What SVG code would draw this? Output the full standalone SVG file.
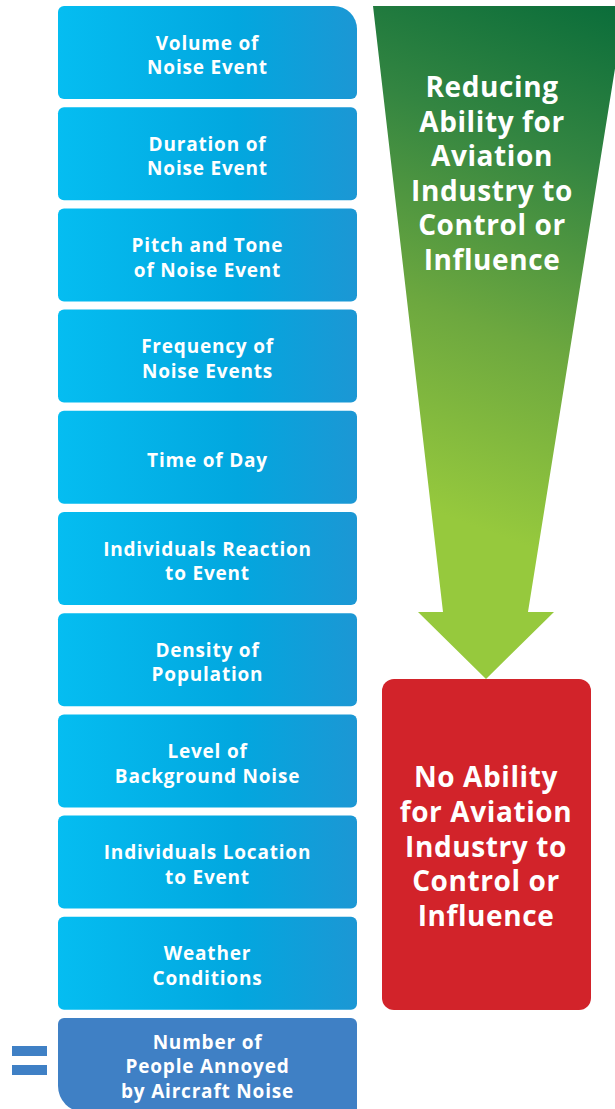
<svg xmlns="http://www.w3.org/2000/svg" width="615" height="1109" viewBox="0 0 615 1109">
<defs>
<linearGradient id="blue" x1="0" y1="0" x2="1" y2="0">
<stop offset="0" stop-color="#05BDF1"/>
<stop offset="0.6" stop-color="#02A7DF"/>
<stop offset="1" stop-color="#1C97D4"/>
</linearGradient>
<linearGradient id="green" gradientUnits="userSpaceOnUse" x1="620" y1="0" x2="430" y2="510">
<stop offset="0" stop-color="#096C3A"/>
<stop offset="0.3" stop-color="#338541"/>
<stop offset="0.65" stop-color="#6DA83F"/>
<stop offset="1" stop-color="#96C93D"/>
</linearGradient>
<style>
.box{fill:url(#blue);}
.t{font-family:"Open Sans","Liberation Sans",sans-serif;font-weight:700;fill:#fff;text-anchor:middle;}
.s{font-size:19px;letter-spacing:0.8px;}
.b{font-size:28px;letter-spacing:0.6px;}
</style>
</defs>
<rect width="615" height="1109" fill="#fff"/>

<g id="arrow">
<path d="M373,6 L625,6 L528,612 L554,612 L486,679 L418,612 L443,612 Z" fill="url(#green)"/>
<text class="t b"><tspan x="492" y="97">Reducing</tspan><tspan x="492" y="131.5">Ability for</tspan><tspan x="492" y="166">Aviation</tspan><tspan x="492" y="200.5">Industry to</tspan><tspan x="492" y="235">Control or</tspan><tspan x="492" y="269.5">Influence</tspan></text>
</g>

<g id="no-ability">
<rect x="382" y="679" width="209" height="331" rx="12" fill="#D2232A"/>
<text class="t b"><tspan x="486" y="787">No Ability</tspan><tspan x="486" y="822">for Aviation</tspan><tspan x="486" y="856.5">Industry to</tspan><tspan x="486" y="891">Control or</tspan><tspan x="486" y="926">Influence</tspan></text>
</g>

<g id="volume">
<path class="box" d="M64,6 L334,6 A23,23 0 0 1 357,29 L357,93 A6,6 0 0 1 351,99 L64,99 A6,6 0 0 1 58,93 L58,12 A6,6 0 0 1 64,6 Z"/>
<text class="t s"><tspan x="207.5" y="49.5">Volume of</tspan><tspan x="207.5" y="74.1">Noise Event</tspan></text>
</g>
<g id="duration">
<rect class="box" x="58" y="107.2" width="299" height="93" rx="6"/>
<text class="t s"><tspan x="207.5" y="150.7">Duration of</tspan><tspan x="207.5" y="175.3">Noise Event</tspan></text>
</g>
<g id="pitch">
<rect class="box" x="58" y="208.4" width="299" height="93" rx="6"/>
<text class="t s"><tspan x="207.5" y="251.9">Pitch and Tone</tspan><tspan x="207.5" y="276.5">of Noise Event</tspan></text>
</g>
<g id="frequency">
<rect class="box" x="58" y="309.6" width="299" height="93" rx="6"/>
<text class="t s"><tspan x="207.5" y="353.1">Frequency of</tspan><tspan x="207.5" y="377.7">Noise Events</tspan></text>
</g>
<g id="time">
<rect class="box" x="58" y="410.8" width="299" height="93" rx="6"/>
<text class="t s" x="207.5" y="466.8">Time of Day</text>
</g>
<g id="reaction">
<rect class="box" x="58" y="512" width="299" height="93" rx="6"/>
<text class="t s"><tspan x="207.5" y="555.5">Individuals Reaction</tspan><tspan x="207.5" y="580.1">to Event</tspan></text>
</g>
<g id="density">
<rect class="box" x="58" y="613.2" width="299" height="93" rx="6"/>
<text class="t s"><tspan x="207.5" y="656.7">Density of</tspan><tspan x="207.5" y="681.3">Population</tspan></text>
</g>
<g id="background">
<rect class="box" x="58" y="714.4" width="299" height="93" rx="6"/>
<text class="t s"><tspan x="207.5" y="757.9">Level of</tspan><tspan x="207.5" y="782.5">Background Noise</tspan></text>
</g>
<g id="location">
<rect class="box" x="58" y="815.6" width="299" height="93" rx="6"/>
<text class="t s"><tspan x="207.5" y="859.1">Individuals Location</tspan><tspan x="207.5" y="883.7">to Event</tspan></text>
</g>
<g id="weather">
<rect class="box" x="58" y="916.8" width="299" height="93" rx="6"/>
<text class="t s"><tspan x="207.5" y="960.3">Weather</tspan><tspan x="207.5" y="984.9">Conditions</tspan></text>
</g>
<g id="annoyed">
<path d="M64,1018 L351,1018 A6,6 0 0 1 357,1024 L357,1112 L84,1112 A26,26 0 0 1 58,1086 L58,1024 A6,6 0 0 1 64,1018 Z" fill="#3F80C5"/>
<text class="t s"><tspan x="207.5" y="1048.6">Number of</tspan><tspan x="207.5" y="1073.2">People Annoyed</tspan><tspan x="207.5" y="1097.8">by Aircraft Noise</tspan></text>
</g>
<g id="equals" fill="#3F80C5">
<rect x="12" y="1046" width="35" height="10"/>
<rect x="12" y="1065" width="35" height="10"/>
</g>
<g id="connectors"/>
</svg>
